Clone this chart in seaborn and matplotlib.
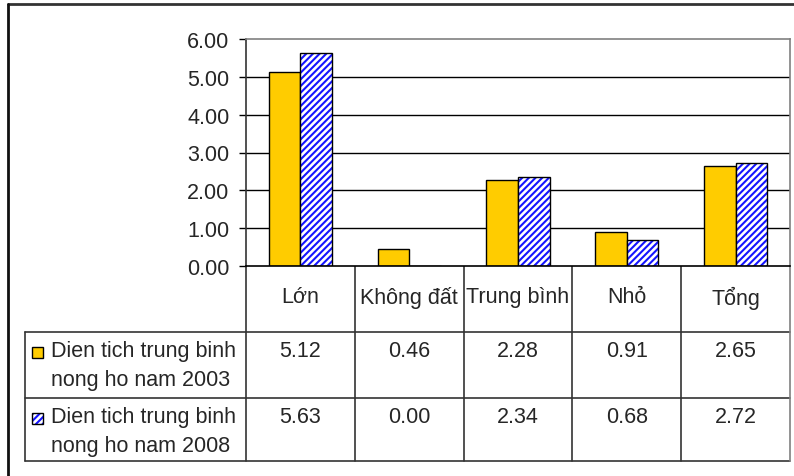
import matplotlib
matplotlib.use("Agg")
import matplotlib.pyplot as plt
import matplotlib.colors as mcolors
import seaborn as sns
import pandas as pd
from matplotlib.lines import Line2D
from matplotlib.patches import Rectangle

categories = ["Lớn", "Không đất", "Trung bình", "Nhỏ", "Tổng"]
series_names = ["Dien tich trung binh\nnong ho nam 2003", "Dien tich trung binh\nnong ho nam 2008"]
values_2003 = [5.12, 0.46, 2.28, 0.91, 2.65]
values_2008 = [5.63, 0.00, 2.34, 0.68, 2.72]
y_ticks = [0, 1, 2, 3, 4, 5, 6]

sns.set_theme(style="white")
plt.rcParams['font.family'] = ['Liberation Sans', 'DejaVu Sans']
plt.rcParams['hatch.linewidth'] = 1.5
HATCH_BLUE = "#1414ff"
FS = 15.5


def blue_hatch(p):
    p.set_hatch("/////")
    try:
        p.set_hatchcolor(HATCH_BLUE)
    except AttributeError:
        p._hatch_color = mcolors.to_rgba(HATCH_BLUE)


df = pd.DataFrame({
    "cat": categories * 2,
    "val": values_2003 + values_2008,
    "series": [series_names[0]] * 5 + [series_names[1]] * 5,
})

W, H = 794, 477
fig = plt.figure(figsize=(W / 100, H / 100), dpi=100)
fig.patch.set_facecolor("white")

L, R, T, B = 246, 790, 40, 267
ax = fig.add_axes([L / W, 1 - B / H, (R - L) / W, (B - T) / H])
sns.barplot(data=df, x="cat", y="val", hue="series", order=categories,
            palette=["#FFCC00", "white"], width=0.58, edgecolor="black",
            linewidth=1.0, legend=False, ax=ax, saturation=1)
n = len(categories)
for i, p in enumerate(ax.patches):
    if i >= n:
        blue_hatch(p)
ax.set_xlim(-0.5, n - 0.5)
ax.set_ylim(0, 6)
ax.set_yticks(y_ticks)
ax.set_yticklabels([f"{v:.2f}" for v in y_ticks], fontsize=FS)
ax.set_xticks([])
ax.set_xlabel("")
ax.set_ylabel("")
for v in y_ticks[1:-1]:
    ax.axhline(v, color="black", lw=1.0, zorder=0)
ax.tick_params(axis="y", length=5, width=1, color="black", pad=7, left=True)
for s in ["top", "right"]:
    ax.spines[s].set_color("#808080")
    ax.spines[s].set_linewidth(1.2)
ax.spines["left"].set_color("#333333")
ax.spines["bottom"].set_color("black")
ax.spines["left"].set_linewidth(1.2)
ax.spines["bottom"].set_linewidth(1.2)

# overlay in pixel coordinates for table and outer border
ov = fig.add_axes([0, 0, 1, 1], zorder=-1)
ov.set_xlim(0, W)
ov.set_ylim(H, 0)
ov.axis("off")
ov.patch.set_alpha(0)

colw = (R - L) / n
rows_y = [B, 333, 399, 462]
lc = "#333333"
for y in rows_y[1:]:
    ov.add_line(Line2D([25, R], [y, y], color=lc, lw=1.2))
for i in range(1, n):
    x = L + i * colw
    ov.add_line(Line2D([x, x], [B, rows_y[-1]], color=lc, lw=1.2))
ov.add_line(Line2D([L, L], [B, rows_y[-1]], color=lc, lw=1.2))
ov.add_line(Line2D([R, R], [B, rows_y[-1]], color="#808080", lw=1.2))
ov.add_line(Line2D([25, 25], [rows_y[1], rows_y[-1]], color=lc, lw=1.2))

for i, c in enumerate(categories):
    ov.text(L + (i + 0.5) * colw, 298, c, ha="center", va="center", fontsize=FS)

for r, (name, vals) in enumerate([(series_names[0], values_2003), (series_names[1], values_2008)]):
    ytop = rows_y[1 + r]
    yc = ytop + 19
    for i, v in enumerate(vals):
        ov.text(L + (i + 0.5) * colw, yc, f"{v:.2f}", ha="center", va="center", fontsize=FS)
    line1, line2 = name.split("\n")
    ov.text(51, yc, line1, ha="left", va="center", fontsize=FS)
    ov.text(51, yc + 29, line2, ha="left", va="center", fontsize=FS)
    key = Rectangle((32, yc - 4), 11, 11, facecolor="#FFCC00" if r == 0 else "white",
                    edgecolor="black", lw=1)
    if r == 1:
        blue_hatch(key)
    ov.add_patch(key)

# outer border
ov.add_line(Line2D([8, W], [5, 5], color="#333333", lw=2))
ov.add_line(Line2D([8, 8], [5, H], color="#111111", lw=2))

fig.savefig("out.png", dpi=100, facecolor="white")
